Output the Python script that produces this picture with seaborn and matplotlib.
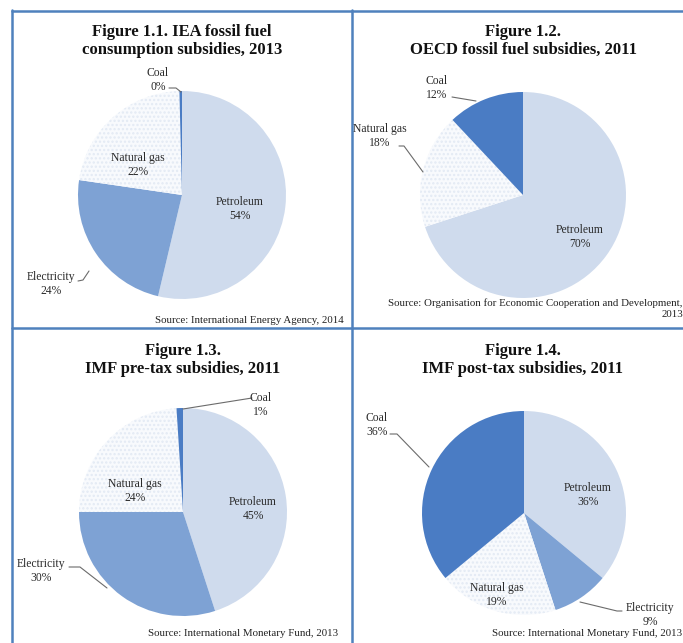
import matplotlib
matplotlib.use("Agg")
import matplotlib.pyplot as plt
from matplotlib.lines import Line2D
import seaborn as sns

# ---- data -------------------------------------------------------------
iea_names = ["Petroleum", "Electricity", "Natural gas", "Coal"]
iea_values = [53.7, 23.6, 22.3, 0.4]

oecd_names = ["Petroleum", "Natural gas", "Coal"]
oecd_values = [70, 18, 12]

imf_pre_names = ["Petroleum", "Electricity", "Natural gas", "Coal"]
imf_pre_values = [45, 30, 24, 1]

imf_post_names = ["Petroleum", "Electricity", "Natural gas", "Coal"]
imf_post_values = [36, 9, 19, 36]

titles = [
    "Figure 1.1. IEA fossil fuel\nconsumption subsidies, 2013",
    "Figure 1.2.\nOECD fossil fuel subsidies, 2011",
    "Figure 1.3.\nIMF pre-tax subsidies, 2011",
    "Figure 1.4.\nIMF post-tax subsidies, 2011",
]
sources = [
    "Source: International Energy Agency, 2014",
    "Source: Organisation for Economic Cooperation and Development,\n2013",
    "Source: International Monetary Fund, 2013",
    "Source: International Monetary Fund, 2013",
]

# ---- style ------------------------------------------------------------
sns.set_theme(style="white")
plt.rcParams["font.family"] = ["Liberation Serif", "DejaVu Serif"]
plt.rcParams["hatch.linewidth"] = 1.1

fuel_colors = {
    "Petroleum": "#cfdbed",
    "Electricity": "#7ea2d4",
    "Natural gas": "#f8fafd",
    "Coal": "#4a7cc4",
}

W, H = 683, 643
fig = plt.figure(figsize=(W / 100, H / 100), dpi=100)
fig.patch.set_facecolor("white")


def fx(x):
    return x / W


def fy(y):
    return 1 - y / H


def pie_panel(cx, cy, r, names, values):
    ax = fig.add_axes([fx(cx - r), fy(cy + r), 2 * r / W, 2 * r / H])
    wedges, _ = ax.pie(
        values,
        colors=[fuel_colors[n] for n in names],
        startangle=90,
        counterclock=False,
        radius=1.0,
        wedgeprops=dict(linewidth=0),
    )
    for w, n in zip(wedges, names):
        if n == "Natural gas":
            w.set_hatch("....")
            w.set_edgecolor("#e3eaf4")
            w.set_linewidth(0)
    ax.set_xlim(-1, 1)
    ax.set_ylim(-1, 1)
    ax.set_aspect("auto")
    ax.axis("off")
    return ax


def label(x, y, name, value, **kw):
    fig.text(fx(x), fy(y), f"{name}\n{round(value):.0f}%", ha="center",
             va="center", fontsize=8.4, color="#2b2b2b", linespacing=1.2, **kw)


def leader(points):
    xs = [fx(p[0]) for p in points]
    ys = [fy(p[1]) for p in points]
    fig.add_artist(Line2D(xs, ys, color="#6b6b6b", linewidth=0.8))


def title(x, y, text):
    fig.text(fx(x), fy(y), text, ha="center", va="center", fontsize=12,
             fontweight="bold", color="#111111", linespacing=1.1)


def source(x, y, text):
    fig.text(fx(x), fy(y), text, ha="right", va="center", fontsize=7.8,
             color="#222222", linespacing=1.3, multialignment="right")


# Figure 1.1 -- IEA
pie_panel(182, 195, 104, iea_names, iea_values)
title(182, 41, titles[0])
lab1 = dict(zip(iea_names, iea_values))
label(158, 80, "Coal", lab1["Coal"])
label(138, 165, "Natural gas", lab1["Natural gas"])
label(240, 209, "Petroleum", lab1["Petroleum"])
label(51, 284, "Electricity", lab1["Electricity"])
leader([(169, 88), (176, 88), (181, 92)])
leader([(78, 281), (83, 280), (89, 271)])
source(344, 320, sources[0])

# Figure 1.2 -- OECD
pie_panel(523, 195, 103, oecd_names, oecd_values)
title(523, 41, titles[1])
lab2 = dict(zip(oecd_names, oecd_values))
label(437, 88, "Coal", lab2["Coal"])
label(380, 136, "Natural gas", lab2["Natural gas"])
label(580, 237, "Petroleum", lab2["Petroleum"])
leader([(452, 97), (476, 101)])
leader([(399, 146), (404, 146), (423, 172)])
source(683, 309, sources[1])

# Figure 1.3 -- IMF pre-tax
pie_panel(183, 512, 104, imf_pre_names, imf_pre_values)
title(183, 360, titles[2])
lab3 = dict(zip(imf_pre_names, imf_pre_values))
label(261, 405, "Coal", lab3["Coal"])
label(135, 491, "Natural gas", lab3["Natural gas"])
label(253, 509, "Petroleum", lab3["Petroleum"])
label(41, 571, "Electricity", lab3["Electricity"])
leader([(252, 398), (183, 409)])
leader([(69, 567), (80, 567), (107, 588)])
source(338, 633, sources[2])

# Figure 1.4 -- IMF post-tax
pie_panel(524, 513, 102, imf_post_names, imf_post_values)
title(523, 360, titles[3])
lab4 = dict(zip(imf_post_names, imf_post_values))
label(377, 425, "Coal", lab4["Coal"])
label(497, 595, "Natural gas", lab4["Natural gas"])
label(588, 495, "Petroleum", lab4["Petroleum"])
label(650, 615, "Electricity", lab4["Electricity"])
leader([(390, 434), (397, 434), (429, 467)])
leader([(580, 602), (617, 611), (622, 611)])
source(682, 633, sources[3])

# Frame lines between the panels
frame = "#4f81bd"
for xs, ys in [
    ((12, 12), (10, 643)),
    ((352, 352), (10, 643)),
    ((12, 683), (11, 11)),
    ((12, 683), (328, 328)),
]:
    fig.add_artist(Line2D([fx(v) for v in xs], [fy(v) for v in ys],
                          color=frame, linewidth=1.8))

fig.savefig("out.png", dpi=100, facecolor="white")
